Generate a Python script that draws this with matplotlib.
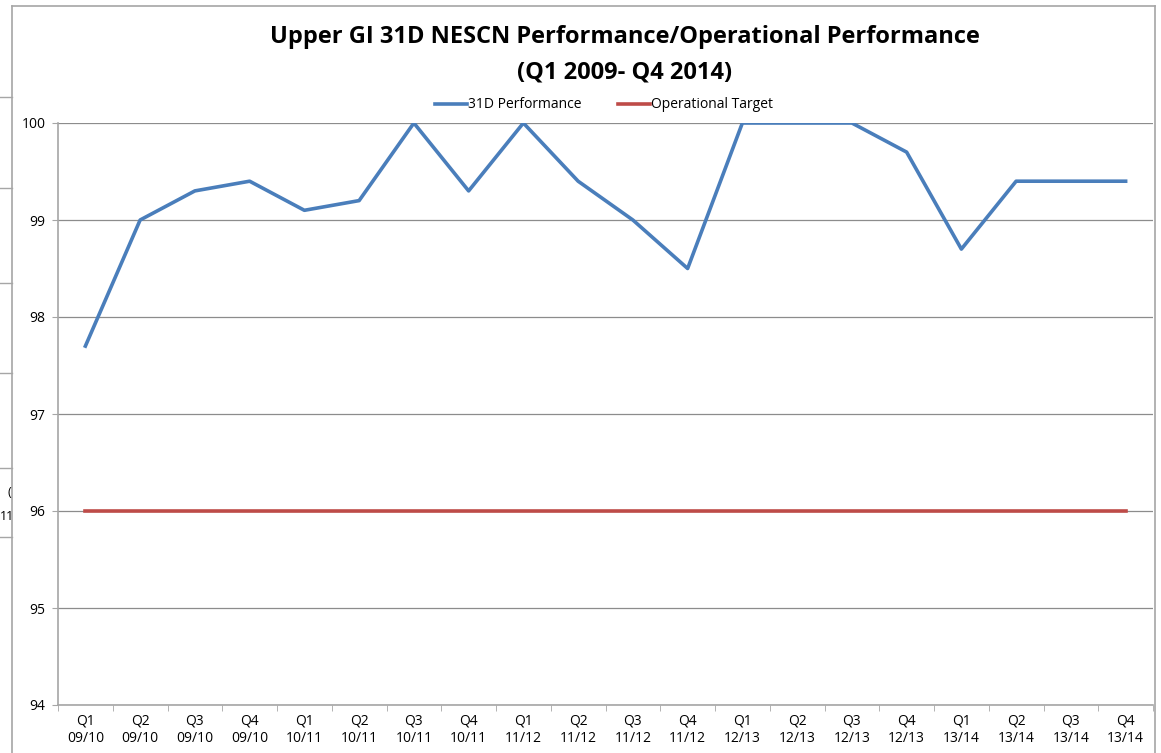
import matplotlib
matplotlib.use("Agg")
import matplotlib.pyplot as plt
from matplotlib.lines import Line2D

plt.rcParams['font.family'] = ['Open Sans', 'DejaVu Sans']

quarters = ["Q1", "Q2", "Q3", "Q4"] * 5
years = ["09/10"] * 4 + ["10/11"] * 4 + ["11/12"] * 4 + ["12/13"] * 4 + ["13/14"] * 4
performance = [97.7, 99.0, 99.3, 99.4, 99.1, 99.2, 100.0, 99.3, 100.0, 99.4,
               99.0, 98.5, 100.0, 100.0, 100.0, 99.7, 98.7, 99.4, 99.4, 99.4]
target = [96] * 20

W, H = 1161, 753
fig = plt.figure(figsize=(W / 100, H / 100), dpi=100)

def fx(px):
    return px / W

def fy(py):
    return 1 - py / H

# background spreadsheet bits + chart border
grey = "#a6a6a6"
for y in [97, 188, 283, 373, 468, 537]:
    fig.add_artist(Line2D([0, fx(12)], [fy(y), fy(y)], color=grey, lw=1))
fig.add_artist(Line2D([fx(12), fx(12)], [fy(6), 0], color=grey, lw=1.2))
fig.add_artist(Line2D([fx(12), fx(1155)], [fy(6), fy(6)], color=grey, lw=1.2))
fig.add_artist(Line2D([fx(1155), fx(1155)], [fy(6), 0], color=grey, lw=1.2))
fig.text(fx(9), fy(492), "(", fontsize=9, ha="center", va="center")
fig.text(fx(0), fy(516), "11", fontsize=9, ha="left", va="center")

ax = fig.add_axes([fx(58), fy(705), fx(1153) - fx(58), fy(123) - fy(705)])
x = list(range(len(performance)))
ax.plot(x, performance, color="#4a7ebb", lw=2.6, label="31D Performance")
ax.plot(x, target, color="#be4b48", lw=2.6, label="Operational Target")

ax.set_xlim(-0.5, len(x) - 0.5)
ax.set_ylim(94, 100)
ax.set_yticks(range(94, 101))
ax.yaxis.grid(True, color="#8c8c8c", lw=0.9)
ax.set_axisbelow(True)
ax.set_xticks(x)
ax.set_xticklabels([q + "\n" + y for q, y in zip(quarters, years)], fontsize=10, linespacing=1.2)
ax.set_xticks([i + 0.5 for i in range(-1, len(x))], minor=True)
ax.tick_params(axis="x", which="major", length=0, pad=6)
ax.tick_params(axis="x", which="minor", length=4, color=grey)
ax.tick_params(axis="y", length=4, color=grey, labelsize=10, pad=5)
for s in ["top", "right"]:
    ax.spines[s].set_visible(False)
ax.spines["left"].set_color(grey)
ax.spines["bottom"].set_color(grey)
ax.spines["left"].set_linewidth(1.2)
ax.spines["bottom"].set_linewidth(1.2)

fig.text(fx(625), fy(37), "Upper GI 31D NESCN Performance/Operational Performance",
         fontsize=17, fontweight="bold", ha="center", va="center")
fig.text(fx(625), fy(73), "(Q1 2009- Q4 2014)",
         fontsize=17, fontweight="bold", ha="center", va="center")

fig.legend(loc="center", bbox_to_anchor=(fx(604), fy(105)), ncol=2, frameon=False,
           fontsize=10, handlelength=2.3, handletextpad=0.1, columnspacing=2.6)

fig.savefig("out.png", dpi=100)
